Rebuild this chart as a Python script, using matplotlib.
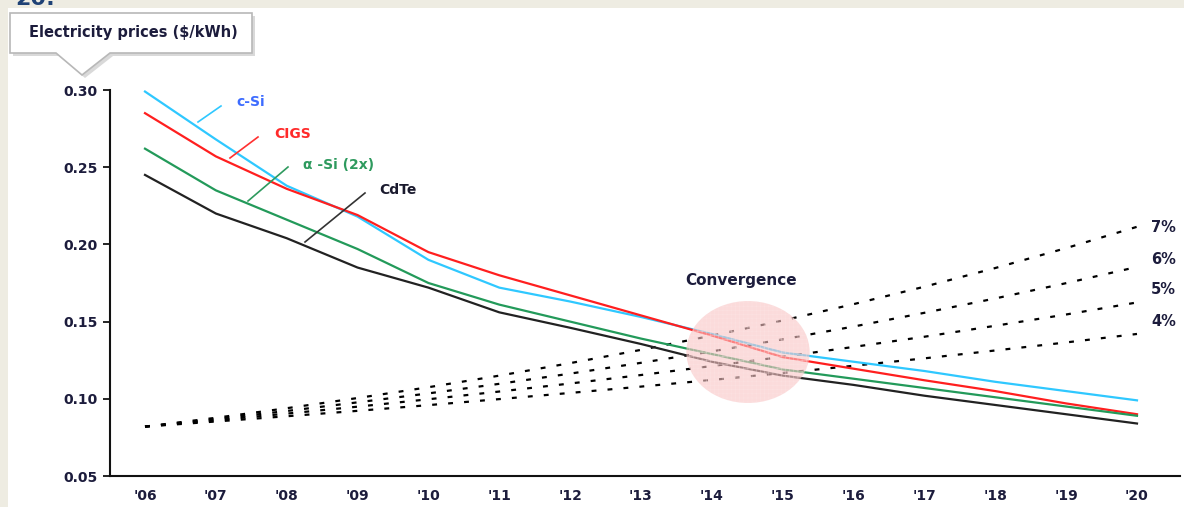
import matplotlib
matplotlib.use("Agg")
import matplotlib.pyplot as plt
from matplotlib.patches import Ellipse, Polygon, Rectangle
from matplotlib.lines import Line2D

plt.rcParams['font.family'] = ['DejaVu Sans']
plt.rcParams['hatch.linewidth'] = 0.4

# Technology price curves, $/kWh
years = list(range(2006, 2021))
year_labels = ["'06", "'07", "'08", "'09", "'10", "'11", "'12", "'13",
               "'14", "'15", "'16", "'17", "'18", "'19", "'20"]
c_si = [0.299, 0.268, 0.238, 0.218, 0.190, 0.172, 0.163, 0.153,
        0.142, 0.130, 0.124, 0.118, 0.111, 0.105, 0.099]
cigs = [0.285, 0.257, 0.236, 0.219, 0.195, 0.180, 0.167, 0.154,
        0.141, 0.127, 0.1195, 0.112, 0.105, 0.097, 0.090]
a_si = [0.262, 0.235, 0.216, 0.197, 0.175, 0.161, 0.150, 0.139,
        0.129, 0.119, 0.113, 0.107, 0.101, 0.095, 0.089]
cdte = [0.245, 0.220, 0.204, 0.185, 0.172, 0.156, 0.146, 0.1355,
        0.124, 0.115, 0.109, 0.102, 0.096, 0.090, 0.084]

# Grid electricity price paths at different annual escalation rates
grid_4 = [0.082, 0.0853, 0.0887, 0.0922, 0.0959, 0.0998, 0.1038, 0.1079,
          0.1122, 0.1167, 0.1214, 0.1262, 0.1313, 0.1365, 0.1420]
grid_5 = [0.082, 0.0861, 0.0904, 0.0949, 0.0997, 0.1047, 0.1099, 0.1154,
          0.1212, 0.1272, 0.1336, 0.1402, 0.1473, 0.1546, 0.1624]
grid_6 = [0.082, 0.0869, 0.0921, 0.0977, 0.1035, 0.1097, 0.1163, 0.1233,
          0.1307, 0.1385, 0.1468, 0.1557, 0.1650, 0.1749, 0.1854]
grid_7 = [0.082, 0.0877, 0.0939, 0.1005, 0.1075, 0.1150, 0.1231, 0.1317,
          0.1409, 0.1507, 0.1613, 0.1726, 0.1847, 0.1976, 0.2114]
grid_labels = ['4%', '5%', '6%', '7%']

y_ticks = [0.05, 0.10, 0.15, 0.20, 0.25, 0.30]

W, H = 1184, 507
TXT = '#1c1c3c'


def fx(px):
    return px / W


def fy(py):
    return 1 - py / H


fig = plt.figure(figsize=(W / 100, H / 100), dpi=100, facecolor='#eeece2')
fig.patches.append(Rectangle((fx(8), 0), 1, fy(8), transform=fig.transFigure,
                             facecolor='white', edgecolor='none',
                             zorder=-10))
fig.text(fx(15), fy(5), '20:', color='#1f4276', fontsize=16,
         fontweight='bold', va='baseline', ha='left')

ax = fig.add_axes([fx(110), fy(476), fx(1180) - fx(110), fy(90) - fy(476)])
ax.set_zorder(1)
ax.set_facecolor('none')
ax.set_xlim(2005.506, 2020.607)
ax.set_ylim(0.05, 0.30)

ax.plot(years, c_si, color='#2fc8ff', lw=1.6, zorder=3, clip_on=False)
ax.plot(years, cigs, color='#ff1f1f', lw=1.6, zorder=3, clip_on=False)
ax.plot(years, a_si, color='#239a5a', lw=1.6, zorder=3, clip_on=False)
ax.plot(years, cdte, color='#222222', lw=1.6, zorder=3, clip_on=False)

for series in (grid_4, grid_5, grid_6, grid_7):
    ax.plot(years, series, color='black', lw=1.6,
            linestyle=(0, (2.2, 5.0)), zorder=2)

# convergence zone
ax.add_patch(Ellipse((2014.51, 0.1303), 1.74, 0.066, facecolor='#f9c4c4',
                     edgecolor='none', alpha=0.6, zorder=4))
ax.add_patch(Ellipse((2014.51, 0.1303), 1.74, 0.066, facecolor='none',
                     edgecolor='#fde6e6', hatch='++++', lw=0, alpha=0.5,
                     zorder=4))

for spine in ('top', 'right'):
    ax.spines[spine].set_visible(False)
ax.spines['left'].set_linewidth(1.5)
ax.spines['bottom'].set_linewidth(1.5)
ax.spines['left'].set_color('#111111')
ax.spines['bottom'].set_color('#111111')

ax.set_yticks(y_ticks)
ax.set_yticklabels([f'{v:.2f}' for v in y_ticks], fontsize=10,
                   fontweight='bold', color=TXT)
ax.tick_params(axis='y', direction='out', length=5, width=1.2, pad=4)
ax.set_xticks(years)
ax.set_xticklabels(year_labels, fontsize=10, fontweight='bold', color=TXT)
ax.tick_params(axis='x', length=0, pad=9)

# series labels with leader lines (figure pixels)
labels = [
    ('c-Si', '#3d6cff', '#2fc8ff', 236, 102, (198, 122, 221, 106)),
    ('CIGS', '#ff2a2a', '#ff3030', 274, 134, (230, 158, 258, 137)),
    ('α -Si (2x)', '#2e9a5e', '#2e9a5e', 303, 165, (248, 201, 288, 167)),
    ('CdTe', '#1a1a2e', '#333333', 379, 190, (305, 242, 365, 193)),
]
for text, tcol, lcol, tx, ty, (x0, y0, x1, y1) in labels:
    fig.text(fx(tx), fy(ty), text, color=tcol, fontsize=10,
             fontweight='bold', ha='left', va='center')
    fig.add_artist(Line2D([fx(x0), fx(x1)], [fy(y0), fy(y1)],
                          color=lcol, lw=1.2, transform=fig.transFigure))

for lab, py in zip(grid_labels, [321, 290, 259, 227]):
    fig.text(fx(1151), fy(py), lab, color=TXT, fontsize=10.5,
             fontweight='bold', ha='left', va='center')

fig.text(fx(741), fy(280), 'Convergence', color=TXT, fontsize=11,
         fontweight='bold', ha='center', va='center')

# callout box for the unit
box = [(10, 13), (252, 13), (252, 53), (110, 53), (82, 75), (56, 53),
       (10, 53)]
shadow = Polygon([(fx(x + 3), fy(y + 3)) for x, y in box], closed=True,
                 transform=fig.transFigure, facecolor='#d9d9d9',
                 edgecolor='none', zorder=5)
callout = Polygon([(fx(x), fy(y)) for x, y in box], closed=True,
                  transform=fig.transFigure, facecolor='white',
                  edgecolor='#b8b8b8', lw=1.2, zorder=6)
fig.patches.extend([shadow, callout])
fig.text(fx(133), fy(33), 'Electricity prices ($/kWh)', color=TXT,
         fontsize=10.5, fontweight='bold', ha='center', va='center', zorder=7)

fig.savefig('out.png', dpi=100, facecolor=fig.get_facecolor())
